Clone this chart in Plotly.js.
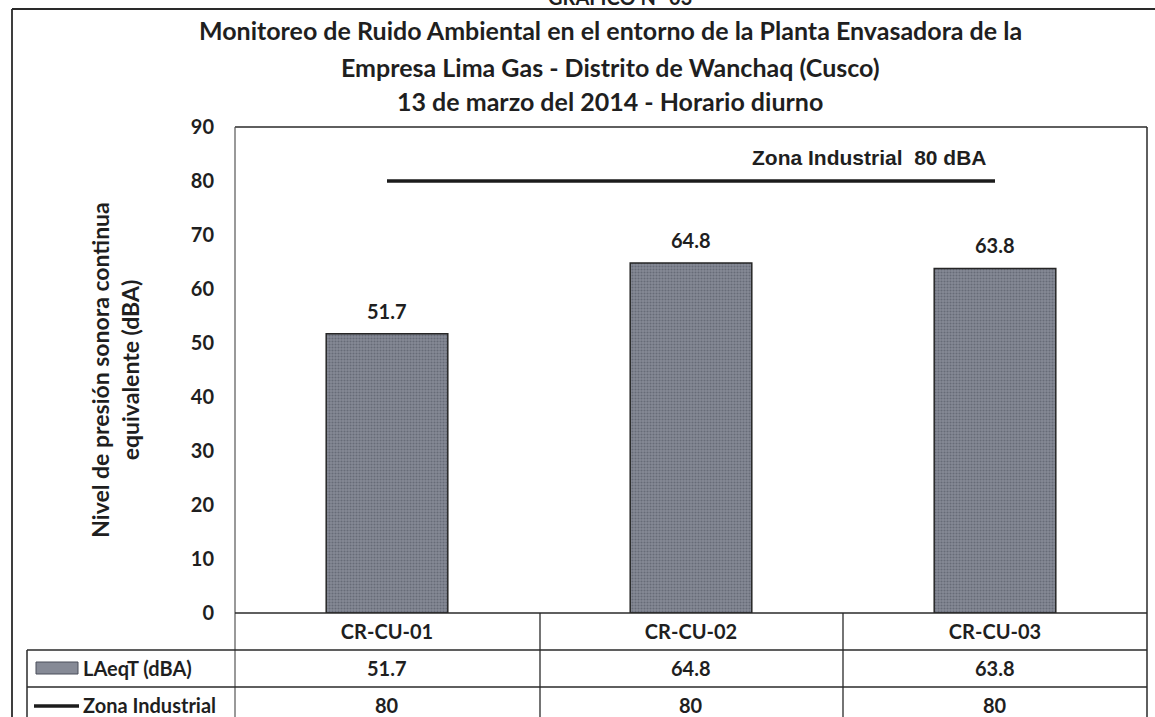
<!DOCTYPE html>
<html>
<head>
<meta charset="utf-8">
<script src="https://cdn.plot.ly/plotly-3.0.1.min.js"></script>
<style>
html,body{margin:0;padding:0;background:#fff;}
#chart{width:1155px;height:717px;}
</style>
</head>
<body>
<div id="chart"></div>
<script>
// ---- data ----
const categories = ['CR-CU-01', 'CR-CU-02', 'CR-CU-03'];
const laeqValues = [51.7, 64.8, 63.8];
const zoneValues = [80, 80, 80];
const yTicks = [0, 10, 20, 30, 40, 50, 60, 70, 80, 90];
const barSeriesName = 'LAeqT (dBA)';
const lineSeriesName = 'Zona Industrial';
const zoneLabel = 'Zona Industrial  80 dBA';
const titleLines = [
  'Monitoreo de Ruido Ambiental en el entorno de la Planta Envasadora de la',
  'Empresa Lima Gas - Distrito de Wanchaq (Cusco)',
  '13 de marzo del 2014 - Horario diurno'
];
const chartHeader = 'GRÁFICO N° 03';
const yTitle = 'Nivel de presión sonora continua<br>equivalente (dBA)';

// ---- layout helpers (pixel -> paper) ----
const W = 1155, H = 717;
const M = {l: 235, r: 8, t: 127, b: 104};
const PW = W - M.l - M.r, PH = H - M.t - M.b;
const px = x => (x - M.l) / PW;
const py = y => (H - M.b - y) / PH;

const FONT = 'Lato, "Open Sans", sans-serif';
const INK = '#1f1f1f';

const traces = [
  {
    type: 'bar',
    name: barSeriesName,
    x: categories,
    y: laeqValues,
    width: 0.4,
    marker: {
      color: '#7a7e8a',
      pattern: {shape: '.', fgcolor: '#474b58', bgcolor: '#868a96', size: 3, solidity: 0.4, fillmode: 'overlay'},
      line: {color: '#262626', width: 1.5}
    },
    hoverinfo: 'x+y',
    showlegend: false
  },
  {
    type: 'scatter',
    mode: 'lines',
    name: lineSeriesName,
    x: categories,
    y: zoneValues,
    line: {color: '#1c1c1c', width: 3.5},
    showlegend: false
  }
];

const annotations = [];
// title lines
const titleY = [30, 67, 101];
titleLines.forEach((t, i) => annotations.push({
  text: '<b>' + t + '</b>', xref: 'paper', yref: 'paper',
  x: px(610), y: py(titleY[i]), xanchor: 'center', yanchor: 'middle',
  showarrow: false, font: {family: FONT, size: 25, color: INK}
}));
annotations.push({
  text: '<b>' + chartHeader + '</b>', xref: 'paper', yref: 'paper',
  x: px(620), y: py(-3), xanchor: 'center', yanchor: 'middle',
  showarrow: false, font: {family: FONT, size: 20, color: INK}
});
// data labels above bars
categories.forEach((c, i) => annotations.push({
  text: '<b>' + laeqValues[i].toFixed(1) + '</b>', xref: 'x', yref: 'y',
  x: c, y: laeqValues[i], xanchor: 'center', yanchor: 'bottom', yshift: 9,
  showarrow: false, font: {family: FONT, size: 20, color: INK}
}));
// zone label
annotations.push({
  text: '<b>' + zoneLabel + '</b>', xref: 'x', yref: 'y',
  x: categories[2], y: zoneValues[2], xanchor: 'right', yanchor: 'bottom', xshift: -6, yshift: 10,
  showarrow: false, font: {family: '"Liberation Sans", Arial, sans-serif', size: 21, color: INK}
});
// data table rows
const row2Y = 668, row3Y = 705;
categories.forEach((c, i) => {
  annotations.push({
    text: '<b>' + laeqValues[i].toFixed(1) + '</b>', xref: 'x', yref: 'paper',
    x: c, y: py(row2Y), xanchor: 'center', yanchor: 'middle',
    showarrow: false, font: {family: FONT, size: 20, color: INK}
  });
  annotations.push({
    text: '<b>' + zoneValues[i] + '</b>', xref: 'x', yref: 'paper',
    x: c, y: py(row3Y), xanchor: 'center', yanchor: 'middle',
    showarrow: false, font: {family: FONT, size: 20, color: INK}
  });
});
annotations.push({
  text: '<b>' + barSeriesName + '</b>', xref: 'paper', yref: 'paper',
  x: px(81), y: py(row2Y), xanchor: 'left', yanchor: 'middle',
  showarrow: false, font: {family: FONT, size: 20, color: INK}
});
annotations.push({
  text: '<b>' + lineSeriesName + '</b>', xref: 'paper', yref: 'paper',
  x: px(81), y: py(row3Y), xanchor: 'left', yanchor: 'middle',
  showarrow: false, font: {family: FONT, size: 20, color: INK}
});

const L = (x0, y0, x1, y1, w, c) => ({
  type: 'line', xref: 'paper', yref: 'paper',
  x0: px(x0), y0: py(y0), x1: px(x1), y1: py(y1),
  line: {color: c || '#2a2a2a', width: w || 1.3}
});
const shapes = [
  // plot frame
  L(235, 127, 1147, 127, 1.5),
  L(235, 127, 235, 720, 1.2, '#555'),
  L(1147, 127, 1147, 720, 1.5),
  // table
  L(235, 613, 1147, 613, 1.5),
  L(540, 613, 540, 720, 1.3),
  L(843, 613, 843, 720, 1.3),
  L(27, 650, 1147, 650, 1.5),
  L(27, 687, 1147, 687, 1.5),
  L(27, 650, 27, 720, 1.5),
  // outer frame
  L(12, 9, 12, 720, 1.8),
  L(12, 9, 1160, 9, 1.8),
  // legend keys
  {type: 'rect', xref: 'paper', yref: 'paper', x0: px(36), x1: px(78), y0: py(674), y1: py(662),
   fillcolor: '#868a96', line: {color: '#4a4e5a', width: 1}},
  L(34, 706, 79, 706, 3.5, '#1c1c1c')
];

const layout = {
  width: W, height: H,
  margin: M,
  paper_bgcolor: '#ffffff',
  plot_bgcolor: '#ffffff',
  showlegend: false,
  xaxis: {
    type: 'category', range: [-0.5, 2.5],
    showline: false, showgrid: false, zeroline: false, ticks: '',
    tickfont: {family: FONT, size: 20, color: INK, weight: 'bold'},
    ticklabelstandoff: 5, automargin: false, fixedrange: true
  },
  yaxis: {
    range: [0, 90], tickvals: yTicks, ticktext: yTicks.map(String),
    showline: false, showgrid: false, zeroline: false, ticks: '',
    tickfont: {family: FONT, size: 20, color: INK, weight: 'bold'},
    ticklabelstandoff: 20, automargin: false, fixedrange: true,
    title: {text: '<b>' + yTitle + '</b>', standoff: 44, font: {family: FONT, size: 23, color: INK}}
  },
  annotations: annotations,
  shapes: shapes
};

Plotly.newPlot('chart', traces, layout, {displayModeBar: false, staticPlot: true});
</script>
</body>
</html>
